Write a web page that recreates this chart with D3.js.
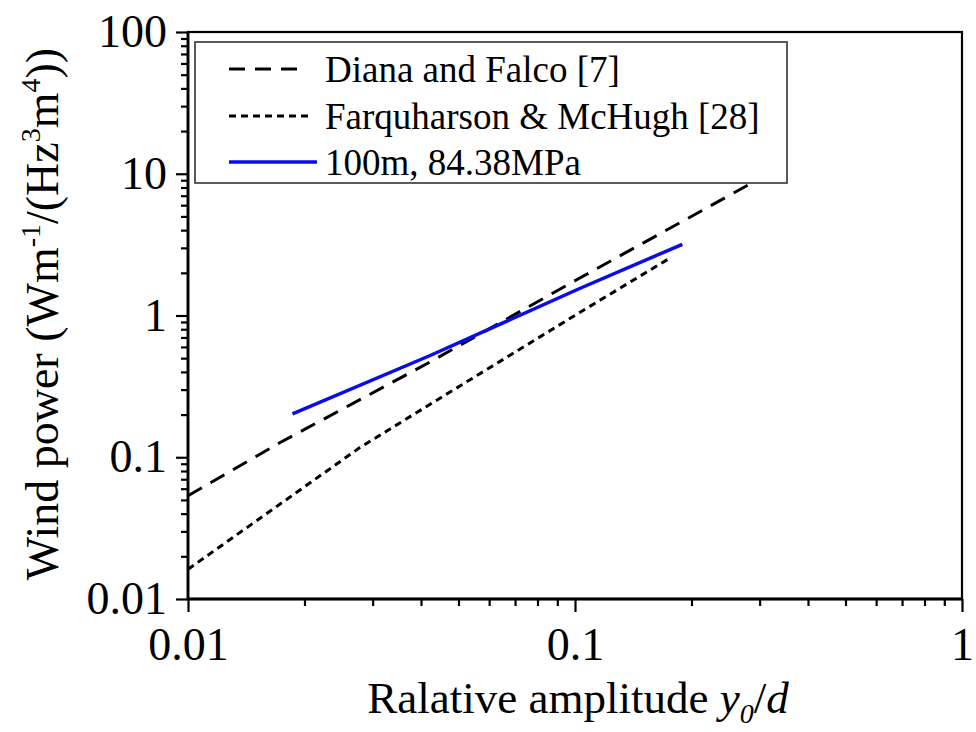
<!DOCTYPE html>
<html>
<head>
<meta charset="utf-8">
<script src="https://cdn.jsdelivr.net/npm/d3@7"></script>
<style>
  html, body { margin: 0; padding: 0; background: #fff; }
  svg { display: block; }
</style>
</head>
<body>
<svg id="chart" width="976" height="732"></svg>
<script>
// ---- data ----
const xTickValues = [0.01, 0.1, 1];
const xTickLabels = ["0.01", "0.1", "1"];
const yTickValues = [0.01, 0.1, 1, 10, 100];
const yTickLabels = ["0.01", "0.1", "1", "10", "100"];

const dianaX = [0.01, 0.0173, 0.0421, 0.1015, 0.2855];
const dianaY = [0.0535, 0.127, 0.468, 1.80, 8.57];

const farqX = [0.01, 0.0278, 0.0474, 0.1028, 0.1754];
const farqY = [0.0162, 0.117, 0.287, 1.05, 2.53];

const simX = [0.01862, 0.0421, 0.1028, 0.1894];
const simY = [0.202, 0.52, 1.55, 3.18];

const seriesNames = ["Diana and Falco [7]", "Farquharson & McHugh [28]", "100m, 84.38MPa"];

// ---- layout ----
const SERIF = '"Liberation Serif", "Times New Roman", serif';
const L = 188, R = 962, T = 32, B = 599;
const svg = d3.select("#chart").style("font-family", SERIF);

const x = d3.scaleLog().domain([0.01, 1]).range([L, R]);
const y = d3.scaleLog().domain([0.01, 100]).range([B, T]);

function minors(lo, hi) {
  const out = [];
  for (let d = lo; d < hi; d *= 10) for (let k = 2; k <= 9; k++) out.push(+(d * k).toPrecision(3));
  return out;
}

// series
const line = d3.line().x(d => x(d[0])).y(d => y(d[1]));
const series = [
  { xs: dianaX, ys: dianaY, color: "#000", width: 3, dash: "16,10" },
  { xs: farqX, ys: farqY, color: "#000", width: 3, dash: "7,5" },
  { xs: simX, ys: simY, color: "#0a0af0", width: 3.5, dash: null }
];
const plot = svg.append("g");
series.forEach(s => {
  plot.append("path")
    .datum(s.xs.map((v, i) => [v, s.ys[i]]))
    .attr("d", line)
    .attr("fill", "none")
    .attr("stroke", s.color)
    .attr("stroke-width", s.width)
    .attr("stroke-dasharray", s.dash);
});

// axes
const fontSize = 46;
const yMajor = d3.axisLeft(y).tickValues(yTickValues).tickSize(12).tickPadding(9)
  .tickFormat((d, i) => yTickLabels[i]);
const yMinor = d3.axisLeft(y).tickValues(minors(0.01, 100)).tickSize(7).tickFormat("");
const xMajor = d3.axisBottom(x).tickValues(xTickValues).tickSize(13).tickPadding(15)
  .tickFormat((d, i) => xTickLabels[i]);
const xMinor = d3.axisBottom(x).tickValues(minors(0.01, 1)).tickSize(7).tickFormat("");

function styleAxis(g) {
  g.attr("font-family", null);
  g.select(".domain").remove();
  g.selectAll("line").attr("stroke", "#000").attr("stroke-width", 2.2);
  g.selectAll("text").style("font-family", SERIF).style("font-size", fontSize + "px").attr("fill", "#000");
}
svg.append("g").attr("transform", `translate(${L},0)`).call(yMinor).call(styleAxis);
svg.append("g").attr("transform", `translate(${L},0)`).call(yMajor).call(styleAxis);
svg.append("g").attr("transform", `translate(0,${B})`).call(xMinor).call(styleAxis);
svg.append("g").attr("transform", `translate(0,${B})`).call(xMajor).call(styleAxis);

// frame
svg.append("rect").attr("x", L).attr("y", T).attr("width", R - L).attr("height", B - T)
  .attr("fill", "none").attr("stroke", "#000").attr("stroke-width", 2.2);
svg.append("line").attr("x1", L).attr("x2", L).attr("y1", T).attr("y2", B)
  .attr("stroke", "#000").attr("stroke-width", 2.8);
svg.append("line").attr("x1", L).attr("x2", R).attr("y1", B).attr("y2", B)
  .attr("stroke", "#000").attr("stroke-width", 2.8);

// legend
const lg = svg.append("g");
lg.append("rect").attr("x", 195).attr("y", 42).attr("width", 592).attr("height", 141)
  .attr("fill", "#fff").attr("stroke", "#333").attr("stroke-width", 1.6);
const legY = [69, 116, 162];
const legEnd = [302, 313, 317];
series.forEach((s, i) => {
  lg.append("line").attr("x1", 229).attr("x2", legEnd[i]).attr("y1", legY[i]).attr("y2", legY[i])
    .attr("stroke", s.color).attr("stroke-width", s.width).attr("stroke-dasharray", s.dash);
  lg.append("text").attr("x", 325).attr("y", legY[i] + 13)
    .style("font-family", SERIF).style("font-size", "37px").attr("fill", "#000").text(seriesNames[i]);
});

// x title
const xt = svg.append("text").attr("x", 578).attr("y", 713).attr("text-anchor", "middle")
  .style("font-family", SERIF).style("font-size", "45px").attr("fill", "#000");
xt.append("tspan").text("Ralative amplitude ");
xt.append("tspan").style("font-style", "italic").text("y");
xt.append("tspan").style("font-style", "italic").style("font-size", "28px").attr("dy", 10).text("0");
xt.append("tspan").attr("dy", -10).text("/");
xt.append("tspan").style("font-style", "italic").text("d");

// y title
const yt = svg.append("text").attr("transform", "translate(58,314) rotate(-90)")
  .attr("text-anchor", "middle").style("font-family", SERIF).style("font-size", "46px").attr("fill", "#000");
yt.append("tspan").text("Wind power (Wm");
yt.append("tspan").style("font-size", "28px").attr("dy", -18).text("-1");
yt.append("tspan").attr("dy", 18).text("/(Hz");
yt.append("tspan").style("font-size", "28px").attr("dy", -18).text("3");
yt.append("tspan").attr("dy", 18).text("m");
yt.append("tspan").style("font-size", "28px").attr("dy", -18).text("4");
yt.append("tspan").attr("dy", 18).text("))");
</script>
</body>
</html>
